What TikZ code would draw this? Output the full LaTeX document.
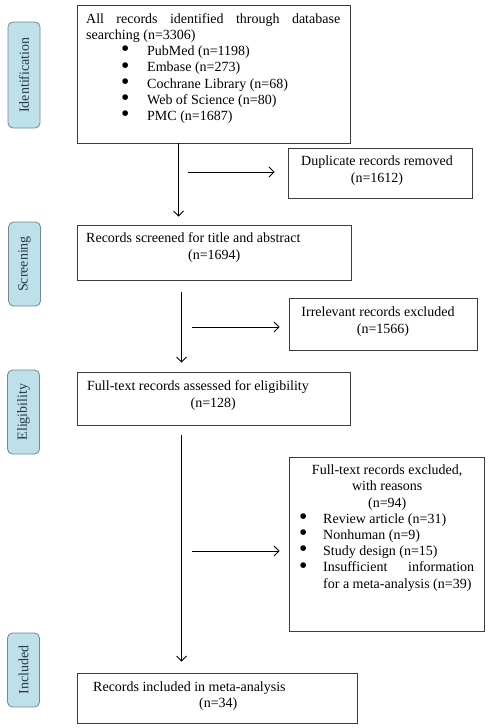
\documentclass[tikz,border=0pt]{standalone}
\usepackage{fontspec}
\setmainfont{Liberation Serif}
\usetikzlibrary{arrows.meta,calc}
\definecolor{sidefill}{RGB}{190,224,234}
\definecolor{sidedraw}{RGB}{110,138,150}
\definecolor{sidetext}{RGB}{40,55,65}
\definecolor{boxdraw}{RGB}{60,60,60}
\newcommand{\bul}{\raisebox{-1.2pt}{\scalebox{1.7}{\textbullet}}}
\begin{document}
\begin{tikzpicture}[x=1pt,y=-1pt,
  every node/.style={font=\fontsize{14}{16.2}\selectfont},
  flowbox/.style={draw=boxdraw,line width=0.9pt,inner sep=0pt,minimum width=#1},
  sidebox/.style={draw=sidedraw,fill=sidefill,line width=0.8pt,rounded corners=5pt,
     inner sep=0pt,minimum height=32pt,rotate=90,text=sidetext,
     font=\fontsize{14}{16}\selectfont},
  txt/.style={inner sep=0pt,align=left,anchor=base west},
  ctxt/.style={inner sep=0pt,align=center,anchor=base},
  arr/.style={line width=0.8pt,-{Straight Barb[length=5pt,width=10pt,line width=0.8pt]}}]
\useasboundingbox (0,0) rectangle (488,728);

% side labels
\node[sidebox,minimum width=106pt] (sid) at (24,75) {Identification};
\node[sidebox,minimum width=84pt] (ssc) at (24.5,264) {Screening};
\node[sidebox,minimum width=84pt] (sel) at (23.5,412) {Eligibility};
\node[sidebox,minimum width=74pt] (sin) at (23.5,670) {Included};

% boxes
\node[flowbox=273pt,minimum height=138pt] (b1) at (213.5,74) {};
\node[flowbox=184pt,minimum height=50pt] (dup) at (380,173) {};
\node[flowbox=274pt,minimum height=55pt] (b2) at (214,252.5) {};
\node[flowbox=188pt,minimum height=52pt] (irr) at (383,324) {};
\node[flowbox=273pt,minimum height=53pt] (b3) at (213.5,398.5) {};
\node[flowbox=195pt,minimum height=174pt] (exc) at (386.5,544) {};
\node[flowbox=280pt,minimum height=50pt] (b4) at (217,698) {};

% texts (anchor = baseline of the last line)
\node[txt] (t1) at (86,120.5) {\makebox[254pt][s]{All records identified through database}\\
searching (n=3306)\\
\hspace*{35pt}\makebox[26pt][l]{\bul}PubMed (n=1198)\\
\hspace*{35pt}\makebox[26pt][l]{\bul}Embase (n=273)\\
\hspace*{35pt}\makebox[26pt][l]{\bul}Cochrane Library (n=68)\\
\hspace*{35pt}\makebox[26pt][l]{\bul}Web of Science (n=80)\\
\hspace*{35pt}\makebox[26pt][l]{\bul}PMC (n=1687)};
\node[ctxt] (tdup) at (377,182) {Duplicate records removed\\(n=1612)};
\node[txt] (t2) at (86,259) {Records screened for title and abstract\\
\makebox[256pt][c]{(n=1694)}};
\node[ctxt] (tirr) at (378,333) {Irrelevant records excluded\\\hspace*{10pt}(n=1566)};
\node[txt] (t3) at (87,407) {Full-text records assessed for eligibility\\
\makebox[252pt][c]{(n=128)}};
\node[txt] (texc) at (299,588) {\makebox[176pt][c]{Full-text records excluded,}\\
\makebox[176pt][c]{with reasons}\\
\makebox[176pt][c]{(n=94)}\\
\makebox[24pt][l]{\bul}Review article (n=31)\\
\makebox[24pt][l]{\bul}Nonhuman (n=9)\\
\makebox[24pt][l]{\bul}Study design (n=15)\\
\makebox[24pt][l]{\bul}\makebox[151pt][s]{Insufficient information}\\
\hspace*{24pt}for a meta-analysis (n=39)};
\node[txt] (t4) at (93,707.5) {Records included in meta-analysis\\
\makebox[250pt][c]{(n=34)}};

% arrows
\draw[arr,shorten >=8pt] ([xshift=102pt]b1.south west) -- ([xshift=102pt]b2.north west);
\draw[arr,shorten <=12pt,shorten >=9pt] ([xshift=105pt]b2.south west) -- ([xshift=105pt]b3.north west);
\draw[arr,shorten <=10pt,shorten >=11pt] ([xshift=105pt]b3.south west) -- ([xshift=105pt]b4.north west);

\coordinate (h1) at (188,172);
\coordinate (h2) at (192,327);
\coordinate (h3) at (192,551);
\draw[arr,shorten >=13pt] (h1) -- (h1 -| dup.west);
\draw[arr,shorten >=9pt] (h2) -- (h2 -| irr.west);
\draw[arr,shorten >=9pt] (h3) -- (h3 -| exc.west);
\end{tikzpicture}
\end{document}
